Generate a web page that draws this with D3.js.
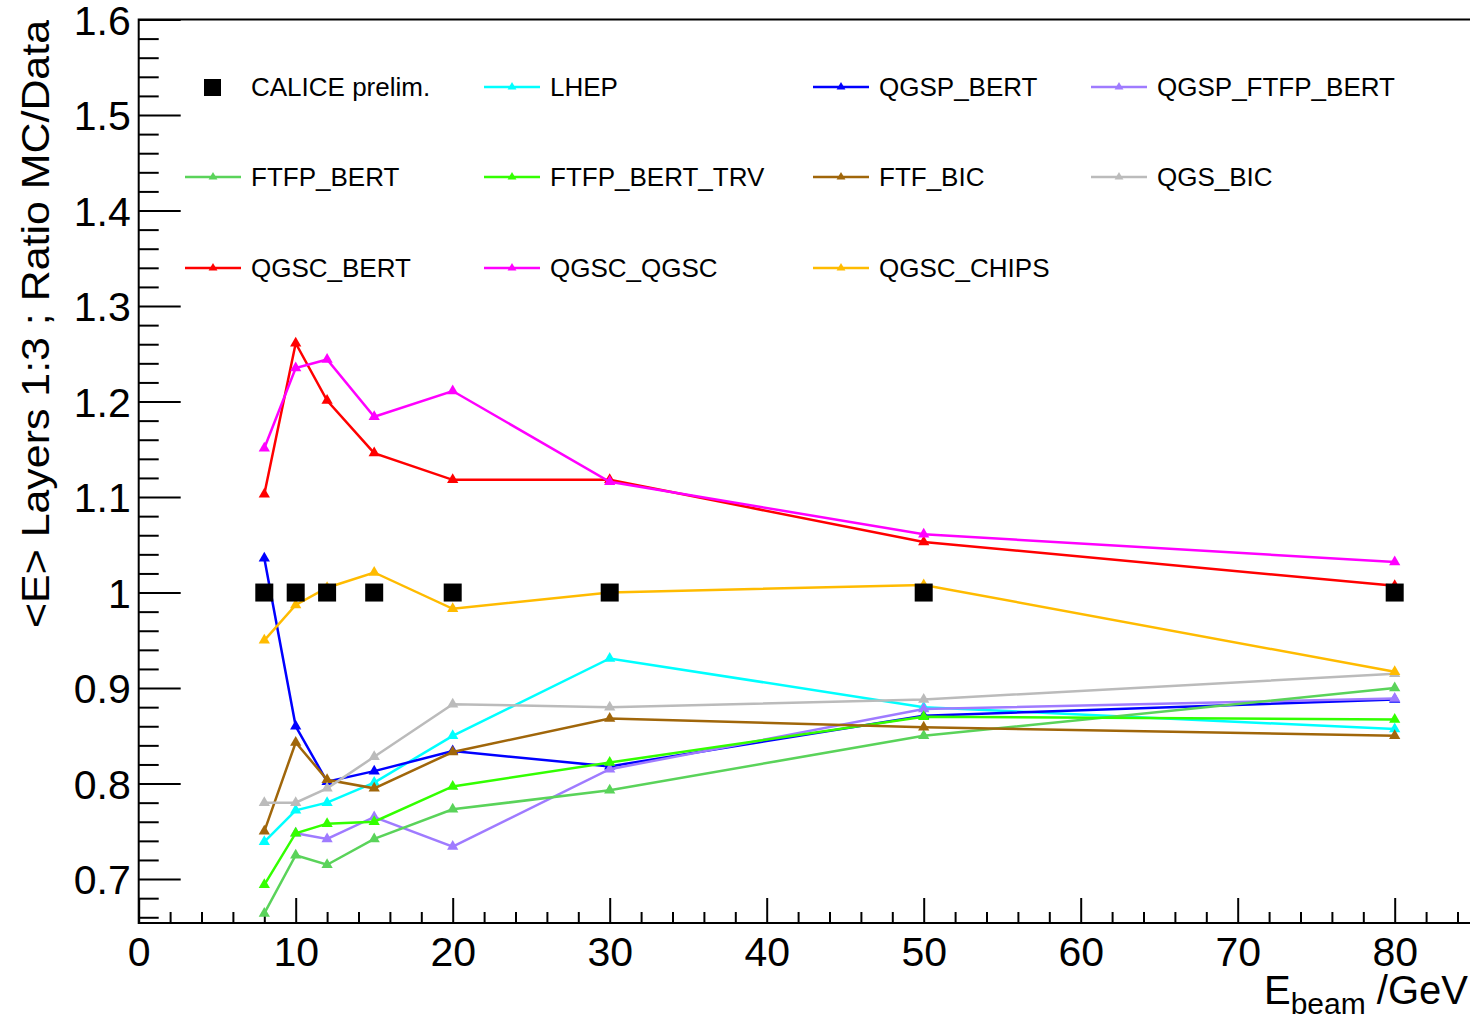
<!DOCTYPE html>
<html>
<head>
<meta charset="utf-8">
<title>Ratio MC/Data</title>
<style>
  body { margin: 0; background: #fff; }
  svg text { font-family: 'Liberation Sans', Arial, sans-serif; fill: #000; }
</style>
</head>
<body>
<div id="chart"></div>
<script src="https://d3js.org/d3.v7.min.js"></script>
<script>
// beam energies (GeV)
var energies = [8, 10, 12, 15, 20, 30, 50, 80];

// data points
var calice = [1.0, 1.0, 1.0, 1.0, 1.0, 1.0, 1.0, 1.0];

// model ratios
var lhep         = [0.739, 0.772, 0.780, 0.801, 0.850, 0.931, 0.880, 0.857];
var qgspBert     = [1.036, 0.860, 0.802, 0.813, 0.834, 0.818, 0.871, 0.888];
var qgspFtfpBert = [null, 0.748, 0.742, 0.765, 0.734, 0.815, 0.878, 0.889];
var ftfpBert     = [0.664, 0.725, 0.715, 0.742, 0.773, 0.793, 0.850, 0.900];
var ftfpBertTrv  = [0.694, 0.748, 0.758, 0.760, 0.797, 0.822, 0.870, 0.867];
var ftfBic       = [0.750, 0.843, 0.804, 0.795, 0.833, 0.868, 0.859, 0.850];
var qgsBic       = [0.780, 0.780, 0.795, 0.828, 0.883, 0.880, 0.888, 0.915];
var qgscBert     = [1.103, 1.261, 1.201, 1.146, 1.118, 1.118, 1.053, 1.007];
var qgscQgsc     = [1.151, 1.235, 1.244, 1.184, 1.211, 1.116, 1.061, 1.032];
var qgscChips    = [0.950, 0.987, 1.005, 1.021, 0.983, 1.000, 1.008, 0.917];

var seriesNames  = ["LHEP", "QGSP_BERT", "QGSP_FTFP_BERT", "FTFP_BERT", "FTFP_BERT_TRV",
                    "FTF_BIC", "QGS_BIC", "QGSC_BERT", "QGSC_QGSC", "QGSC_CHIPS"];
var seriesValues = [lhep, qgspBert, qgspFtfpBert, ftfpBert, ftfpBertTrv,
                    ftfBic, qgsBic, qgscBert, qgscQgsc, qgscChips];
var seriesColors = ["#00ffff", "#0000ff", "#9f7bff", "#5ad35a", "#33ff00",
                    "#a0660a", "#bbbbbb", "#ff0000", "#ff00ff", "#ffbb00"];
// draw order (bottom first) so the overlaps look like the original
var drawOrder = [0, 1, 2, 3, 4, 5, 6, 9, 7, 8];

var xTicks = [0, 10, 20, 30, 40, 50, 60, 70, 80];
var yTicks = [0.7, 0.8, 0.9, 1.0, 1.1, 1.2, 1.3, 1.4, 1.5, 1.6];

var W = 1470, H = 1019;
var plotLeft = 138.7, plotTop = 19.5, plotBottom = 923;

var x = d3.scaleLinear().domain([0, 85]).range([plotLeft, plotLeft + 85 * 15.7]);
var y = d3.scaleLinear().domain([0.654, 1.6]).range([plotBottom, plotTop]);

var svg = d3.select('#chart').append('svg')
  .attr('width', W)
  .attr('height', H);

// frame (right side falls off the picture)
svg.append('rect')
  .attr('x', plotLeft).attr('y', plotTop)
  .attr('width', x(85) - plotLeft).attr('height', plotBottom - plotTop)
  .attr('fill', 'none').attr('stroke', '#000').attr('stroke-width', 2);

// x axis ticks drawn inward
var xAxis = d3.axisBottom(x).tickValues(xTicks).tickSize(-25).tickPadding(8)
  .tickFormat(d3.format('d'));
var gx = svg.append('g').attr('transform', 'translate(0,' + plotBottom + ')').call(xAxis);
gx.select('.domain').remove();
gx.selectAll('.tick line').attr('stroke-width', 2);
gx.selectAll('text').style('font-size', '41px').attr('dy', '0.85em');

var xMinor = d3.range(2, 85, 2).filter(function(d) { return d % 10 !== 0; });
svg.append('g').attr('transform', 'translate(0,' + plotBottom + ')')
  .call(d3.axisBottom(x).tickValues(xMinor).tickSize(-11).tickFormat(''))
  .call(function(g) { g.select('.domain').remove(); })
  .selectAll('line').attr('stroke-width', 2);

// y axis
var yAxis = d3.axisLeft(y).tickValues(yTicks).tickSize(-42).tickPadding(8)
  .tickFormat(function(d) { return d === 1 ? '1' : d3.format('.1f')(d); });
var gy = svg.append('g').attr('transform', 'translate(' + plotLeft + ',0)').call(yAxis);
gy.select('.domain').remove();
gy.selectAll('.tick line').attr('stroke-width', 2);
gy.selectAll('text').style('font-size', '41px').attr('dy', '0.36em');

var yMinor = d3.range(0.66, 1.6, 0.02).filter(function(d) {
  return Math.abs(d * 10 - Math.round(d * 10)) > 0.01;
});
svg.append('g').attr('transform', 'translate(' + plotLeft + ',0)')
  .call(d3.axisLeft(y).tickValues(yMinor).tickSize(-20).tickFormat(''))
  .call(function(g) { g.select('.domain').remove(); })
  .selectAll('line').attr('stroke-width', 2);

// axis titles
svg.append('text')
  .attr('transform', 'translate(49,20) rotate(-90)')
  .attr('text-anchor', 'end')
  .attr('textLength', 608)
  .attr('lengthAdjust', 'spacingAndGlyphs')
  .style('font-size', '39px')
  .text('<E> Layers 1:3 ; Ratio MC/Data');

var xt = svg.append('text')
  .attr('x', 1468).attr('y', 1004)
  .attr('text-anchor', 'end')
  .style('font-size', '40px');
xt.append('tspan').text('E');
xt.append('tspan').attr('dy', 10).style('font-size', '30px').text('beam');
xt.append('tspan').attr('dy', -10).text(' /GeV');

// model lines
var line = d3.line()
  .defined(function(d) { return d[1] !== null; })
  .x(function(d) { return x(d[0]); })
  .y(function(d) { return y(d[1]); });

var tri = d3.symbol().type(d3.symbolTriangle).size(55);

drawOrder.forEach(function(i) {
  var pts = energies.map(function(e, k) { return [e, seriesValues[i][k]]; });
  svg.append('path')
    .datum(pts)
    .attr('d', line)
    .attr('fill', 'none')
    .attr('stroke', seriesColors[i])
    .attr('stroke-width', 2.5);
  svg.append('g').selectAll('path')
    .data(pts.filter(function(d) { return d[1] !== null; }))
    .enter().append('path')
    .attr('d', tri)
    .attr('transform', function(d) { return 'translate(' + x(d[0]) + ',' + y(d[1]) + ')'; })
    .attr('fill', seriesColors[i]);
});

// CALICE data squares
svg.append('g').selectAll('rect')
  .data(energies.map(function(e, k) { return [e, calice[k]]; }))
  .enter().append('rect')
  .attr('x', function(d) { return x(d[0]) - 9; })
  .attr('y', function(d) { return y(d[1]) - 9; })
  .attr('width', 18).attr('height', 18)
  .attr('fill', '#000');

// legend: 4 columns, 3 rows
var legendCols = [185, 484, 813, 1091];
var legendRows = [87, 177, 268];
var legendItems = [{ name: 'CALICE prelim.', data: true }].concat(
  seriesNames.map(function(n, i) { return { name: n, color: seriesColors[i] }; }));

var lg = svg.append('g');
legendItems.forEach(function(item, k) {
  var cx = legendCols[k % 4], cy = legendRows[Math.floor(k / 4)];
  if (item.data) {
    lg.append('rect').attr('x', cx + 19).attr('y', cy - 8)
      .attr('width', 17).attr('height', 17).attr('fill', '#000');
  } else {
    lg.append('line').attr('x1', cx).attr('x2', cx + 56)
      .attr('y1', cy).attr('y2', cy)
      .attr('stroke', item.color).attr('stroke-width', 2.5);
    lg.append('path').attr('d', d3.symbol().type(d3.symbolTriangle).size(34))
      .attr('transform', 'translate(' + (cx + 28) + ',' + cy + ')')
      .attr('fill', item.color);
  }
  lg.append('text').attr('x', cx + 66).attr('y', cy + 9)
    .style('font-size', '26px').text(item.name);
});
</script>
</body>
</html>
